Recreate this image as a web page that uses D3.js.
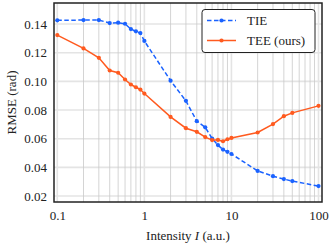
<!DOCTYPE html>
<html lang="en">
<head>
<meta charset="UTF-8">
<title>RMSE vs Intensity</title>
<script src="https://d3js.org/d3.v7.min.js"></script>
<style>
    body { margin: 0; background: #fff; }
    .grid-major { stroke: #e4e4e4; stroke-width: 1.6px; }
    .grid-minor { stroke: #c9c9c9; stroke-width: 0.8px; }
</style>
</head>
<body>
<div id="chart"></div>
<script>
    // data
    const intensity = [0.1, 0.2, 0.3, 0.4, 0.5, 0.6, 0.7, 0.8, 0.9, 1, 2, 3, 4, 5, 6, 7, 8, 9, 10, 20, 30, 40, 50, 100];
    const tie = [0.1426, 0.1428, 0.1428, 0.1407, 0.1410, 0.1402, 0.1365, 0.1349, 0.1337, 0.1282,
                 0.1005, 0.0864, 0.0722, 0.0679, 0.0601, 0.0555, 0.0524, 0.0508, 0.0493,
                 0.0375, 0.0338, 0.0318, 0.0304, 0.0269];
    const tee = [0.1323, 0.1230, 0.1164, 0.1076, 0.1060, 0.1013, 0.0978, 0.0959, 0.0943, 0.0915,
                 0.0752, 0.0673, 0.0648, 0.0611, 0.0590, 0.0591, 0.0582, 0.0596, 0.0605,
                 0.0643, 0.0702, 0.0757, 0.0780, 0.0829];
    const xTicks = [0.1, 1, 10, 100];
    const yTicks = [0.02, 0.04, 0.06, 0.08, 0.10, 0.12, 0.14];
    const seriesNames = ["TIE", "TEE (ours)"];

    const width = 332, height = 246;
    const plotLeft = 54, plotRight = 322, plotTop = 3, plotBottom = 202;
    const serif = "'Liberation Serif'";

    const svg = d3.select("#chart").append("svg")
        .attr("width", width)
        .attr("height", height);

    // log x with a small pad on each side, like matplotlib margins
    const x = d3.scaleLog()
        .domain([0.1 / Math.pow(10, 3.3 / 87.3), 100 * Math.pow(10, 3.5 / 87.3)])
        .range([plotLeft, plotRight]);
    const y = d3.scaleLinear()
        .domain([0.0158, 0.1547])
        .range([plotBottom, plotTop]);

    // minor vertical grid (2..9 of each decade)
    const minor = [];
    [0.1, 1, 10].forEach(d => {
        for (let k = 2; k <= 9; k++) minor.push(d * k);
    });

    const grid = svg.append("g");
    grid.append("g").selectAll("line")
        .data(yTicks)
        .join("line")
        .attr("class", "grid-major")
        .attr("x1", plotLeft).attr("x2", plotRight)
        .attr("y1", d => y(d)).attr("y2", d => y(d));
    grid.append("g").selectAll("line")
        .data(minor)
        .join("line")
        .attr("class", "grid-minor")
        .attr("x1", d => x(d)).attr("x2", d => x(d))
        .attr("y1", plotTop).attr("y2", plotBottom);
    grid.append("g").selectAll("line")
        .data(xTicks)
        .join("line")
        .attr("class", "grid-major")
        .attr("x1", d => x(d)).attr("x2", d => x(d))
        .attr("y1", plotTop).attr("y2", plotBottom);

    // axes, ticks hidden, labels only
    const xAxis = d3.axisBottom(x)
        .tickValues(xTicks)
        .tickFormat(d3.format("~g"))
        .tickSize(0).tickPadding(9);
    const gx = svg.append("g")
        .attr("transform", `translate(0,${plotBottom})`)
        .call(xAxis);
    gx.select(".domain").remove();
    gx.selectAll("text")
        .style("font-family", serif)
        .style("font-size", "13px")
        .attr("fill", "#222");

    const yAxis = d3.axisLeft(y)
        .tickValues(yTicks)
        .tickFormat(d3.format(".2f"))
        .tickSize(0).tickPadding(7);
    const gy = svg.append("g")
        .attr("transform", `translate(${plotLeft},0)`)
        .call(yAxis);
    gy.select(".domain").remove();
    gy.selectAll("text")
        .style("font-family", serif)
        .style("font-size", "13px")
        .attr("fill", "#222");

    const series = [
        { name: seriesNames[0], values: tie, color: "#1a62ff", dash: "4.5,2.5" },
        { name: seriesNames[1], values: tee, color: "#ff5a1f", dash: null }
    ];

    const line = d3.line()
        .x(d => x(d[0]))
        .y(d => y(d[1]));

    series.forEach(s => {
        const pts = intensity.map((v, i) => [v, s.values[i]]);
        svg.append("path")
            .datum(pts)
            .attr("fill", "none")
            .attr("stroke", s.color)
            .attr("stroke-width", 1.5)
            .attr("stroke-dasharray", s.dash)
            .attr("d", line);
        svg.append("g")
            .selectAll("circle")
            .data(pts)
            .join("circle")
            .attr("cx", d => x(d[0]))
            .attr("cy", d => y(d[1]))
            .attr("r", 2.1)
            .attr("fill", s.color);
    });

    // frame
    svg.append("rect")
        .attr("x", plotLeft).attr("y", plotTop)
        .attr("width", plotRight - plotLeft).attr("height", plotBottom - plotTop)
        .attr("fill", "none")
        .attr("stroke", "#222")
        .attr("stroke-width", 1.5);

    // legend
    const legend = svg.append("g").attr("transform", "translate(202,9.5)");
    legend.append("rect")
        .attr("width", 113).attr("height", 43)
        .attr("rx", 3)
        .attr("fill", "#fff")
        .attr("stroke", "#222")
        .attr("stroke-width", 1);
    series.forEach((s, i) => {
        const ly = 11 + i * 20;
        legend.append("line")
            .attr("x1", 5).attr("x2", 34)
            .attr("y1", ly).attr("y2", ly)
            .attr("stroke", s.color)
            .attr("stroke-width", 1.5)
            .attr("stroke-dasharray", s.dash);
        legend.append("circle")
            .attr("cx", 19.5).attr("cy", ly).attr("r", 2.1)
            .attr("fill", s.color);
        legend.append("text")
            .attr("x", 45).attr("y", ly)
            .attr("dy", "0.35em")
            .style("font-family", serif)
            .style("font-size", "13px")
            .attr("fill", "#222")
            .text(s.name);
    });

    // axis titles
    const xt = svg.append("text")
        .attr("x", (plotLeft + plotRight) / 2)
        .attr("y", 240)
        .attr("text-anchor", "middle")
        .style("font-family", serif)
        .style("font-size", "13px")
        .attr("fill", "#222");
    xt.append("tspan").text("Intensity ");
    xt.append("tspan").style("font-style", "italic").text("I");
    xt.append("tspan").text(" (a.u.)");

    svg.append("text")
        .attr("transform", `translate(16,${(plotTop + plotBottom) / 2}) rotate(-90)`)
        .attr("text-anchor", "middle")
        .style("font-family", serif)
        .style("font-size", "13px")
        .attr("fill", "#222")
        .text("RMSE (rad)");
</script>
</body>
</html>
